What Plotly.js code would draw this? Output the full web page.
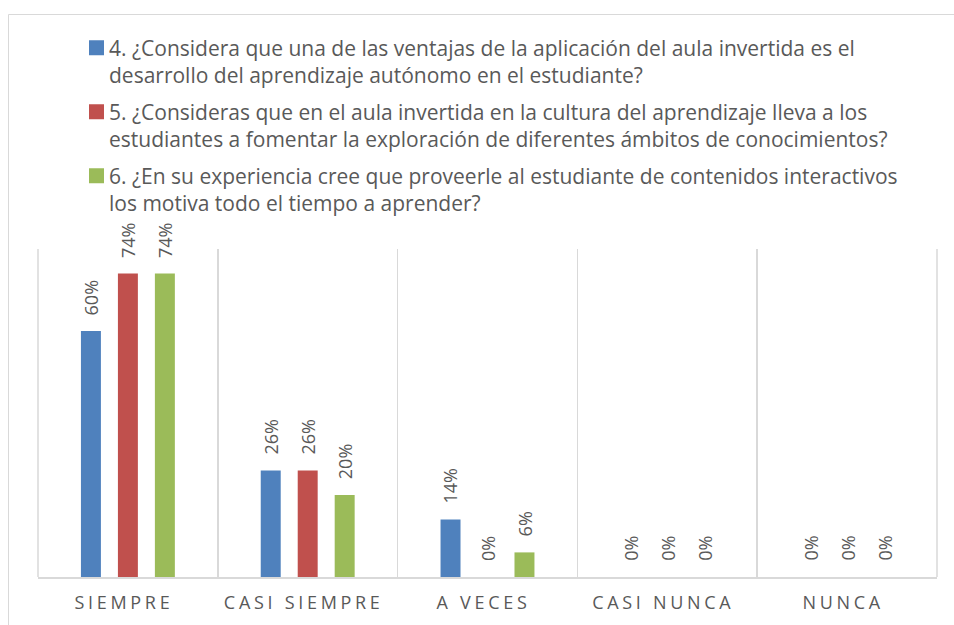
<!DOCTYPE html>
<html>
<head>
<meta charset="utf-8">
<script src="https://cdn.plot.ly/plotly-3.0.1.min.js"></script>
<style>
  html, body { margin: 0; padding: 0; background: #ffffff; }
  #chart { width: 954px; height: 625px; }
  .xtick text { letter-spacing: 3.7px; }
  .legendsymbols { transform: translateX(2.5px) scale(1.25); }
</style>
</head>
<body>
<div id="chart"></div>
<script>
// ---- data ----
var categories = ["SIEMPRE", "CASI SIEMPRE", "A VECES", "CASI NUNCA", "NUNCA"];
var seriesNames = [
  "4. ¿Considera que una de las ventajas de la aplicación del aula invertida es el<br>desarrollo del aprendizaje autónomo en el estudiante?",
  "5. ¿Consideras que en el aula invertida en la cultura del aprendizaje lleva a los<br>estudiantes a fomentar la exploración de diferentes ámbitos de conocimientos?",
  "6. ¿En su experiencia cree que proveerle al estudiante de contenidos interactivos<br>los motiva todo el tiempo a aprender?"
];
var q4 = [0.60, 0.26, 0.14, 0.00, 0.00];
var q5 = [0.74, 0.26, 0.00, 0.00, 0.00];
var q6 = [0.74, 0.20, 0.06, 0.00, 0.00];
var seriesValues = [q4, q5, q6];
var seriesColors = ["#4f81bd", "#c0504d", "#9bbb59"];

// ---- layout constants ----
var FONT = "'Open Sans', Lato, sans-serif";
var TEXT = "#595959";
var GRID = "#d9d9d9";
var bargap = 0.383;
var bargroupgap = 0.46;
var W = 954, H = 625;
var mL = 38, mR = 17, mT = 249, mB = 48;
var plotW = W - mL - mR, plotH = H - mT - mB;

var traces = seriesValues.map(function (vals, i) {
  return {
    type: "bar",
    name: seriesNames[i],
    x: categories,
    y: vals,
    legendgroup: "g" + i,
    marker: { color: seriesColors[i], line: { width: 0 } },
    hoverinfo: "x+y"
  };
});

// data labels, rotated, above each bar
var slot = (1 - bargap) / seriesValues.length;
var annotations = [];
seriesValues.forEach(function (vals, i) {
  vals.forEach(function (v, c) {
    annotations.push({
      x: c + (i - (seriesValues.length - 1) / 2) * slot,
      y: v,
      xref: "x", yref: "y",
      text: Math.round(v * 100) + "%",
      textangle: -90,
      showarrow: false,
      xanchor: "center",
      yanchor: "bottom",
      yshift: 14,
      font: { family: FONT, size: 18, color: TEXT }
    });
  });
});

// outer chart border (top + left) and edge gridlines
function px2paperX(px) { return (px - mL) / plotW; }
function px2paperY(py) { return (H - mB - py) / plotH; }
var shapes = [
  { type: "line", xref: "paper", yref: "paper",
    x0: px2paperX(8.5), x1: px2paperX(960), y0: px2paperY(14.5), y1: px2paperY(14.5),
    line: { color: GRID, width: 1 } },
  { type: "line", xref: "paper", yref: "paper",
    x0: px2paperX(8.5), x1: px2paperX(8.5), y0: px2paperY(14.5), y1: px2paperY(640),
    line: { color: GRID, width: 1 } },
  { type: "line", xref: "paper", yref: "paper", layer: "below",
    x0: 0, x1: 0, y0: 0, y1: 1, line: { color: GRID, width: 1.5 } },
  { type: "line", xref: "paper", yref: "paper", layer: "below",
    x0: 1, x1: 1, y0: 0, y1: 1, line: { color: GRID, width: 1.5 } }
];

var layout = {
  width: W, height: H,
  margin: { l: mL, r: mR, t: mT, b: mB, pad: 0 },
  paper_bgcolor: "#ffffff",
  plot_bgcolor: "#ffffff",
  barmode: "group",
  bargap: bargap,
  bargroupgap: bargroupgap,
  font: { family: FONT, size: 20, color: TEXT },
  showlegend: true,
  legend: {
    orientation: "v",
    x: px2paperX(69), xanchor: "left",
    y: px2paperY(27.5), yanchor: "top",
    valign: "top",
    tracegroupgap: 6.5,
    bgcolor: "rgba(0,0,0,0)",
    font: { family: FONT, size: 21, color: TEXT }
  },
  xaxis: {
    type: "category",
    tickson: "boundaries",
    showgrid: true,
    gridcolor: GRID,
    gridwidth: 1.5,
    showline: true,
    linecolor: GRID,
    linewidth: 2,
    ticks: "",
    ticklabelstandoff: 8,
    ticklabelshift: -4,
    tickfont: { family: FONT, size: 18, color: TEXT },
    zeroline: false,
    fixedrange: true
  },
  yaxis: {
    range: [0, 0.8],
    showgrid: false,
    showticklabels: false,
    showline: false,
    zeroline: false,
    ticks: "",
    fixedrange: true
  },
  annotations: annotations,
  shapes: shapes
};

Plotly.newPlot("chart", traces, layout, { displayModeBar: false, staticPlot: true });
</script>
</body>
</html>
